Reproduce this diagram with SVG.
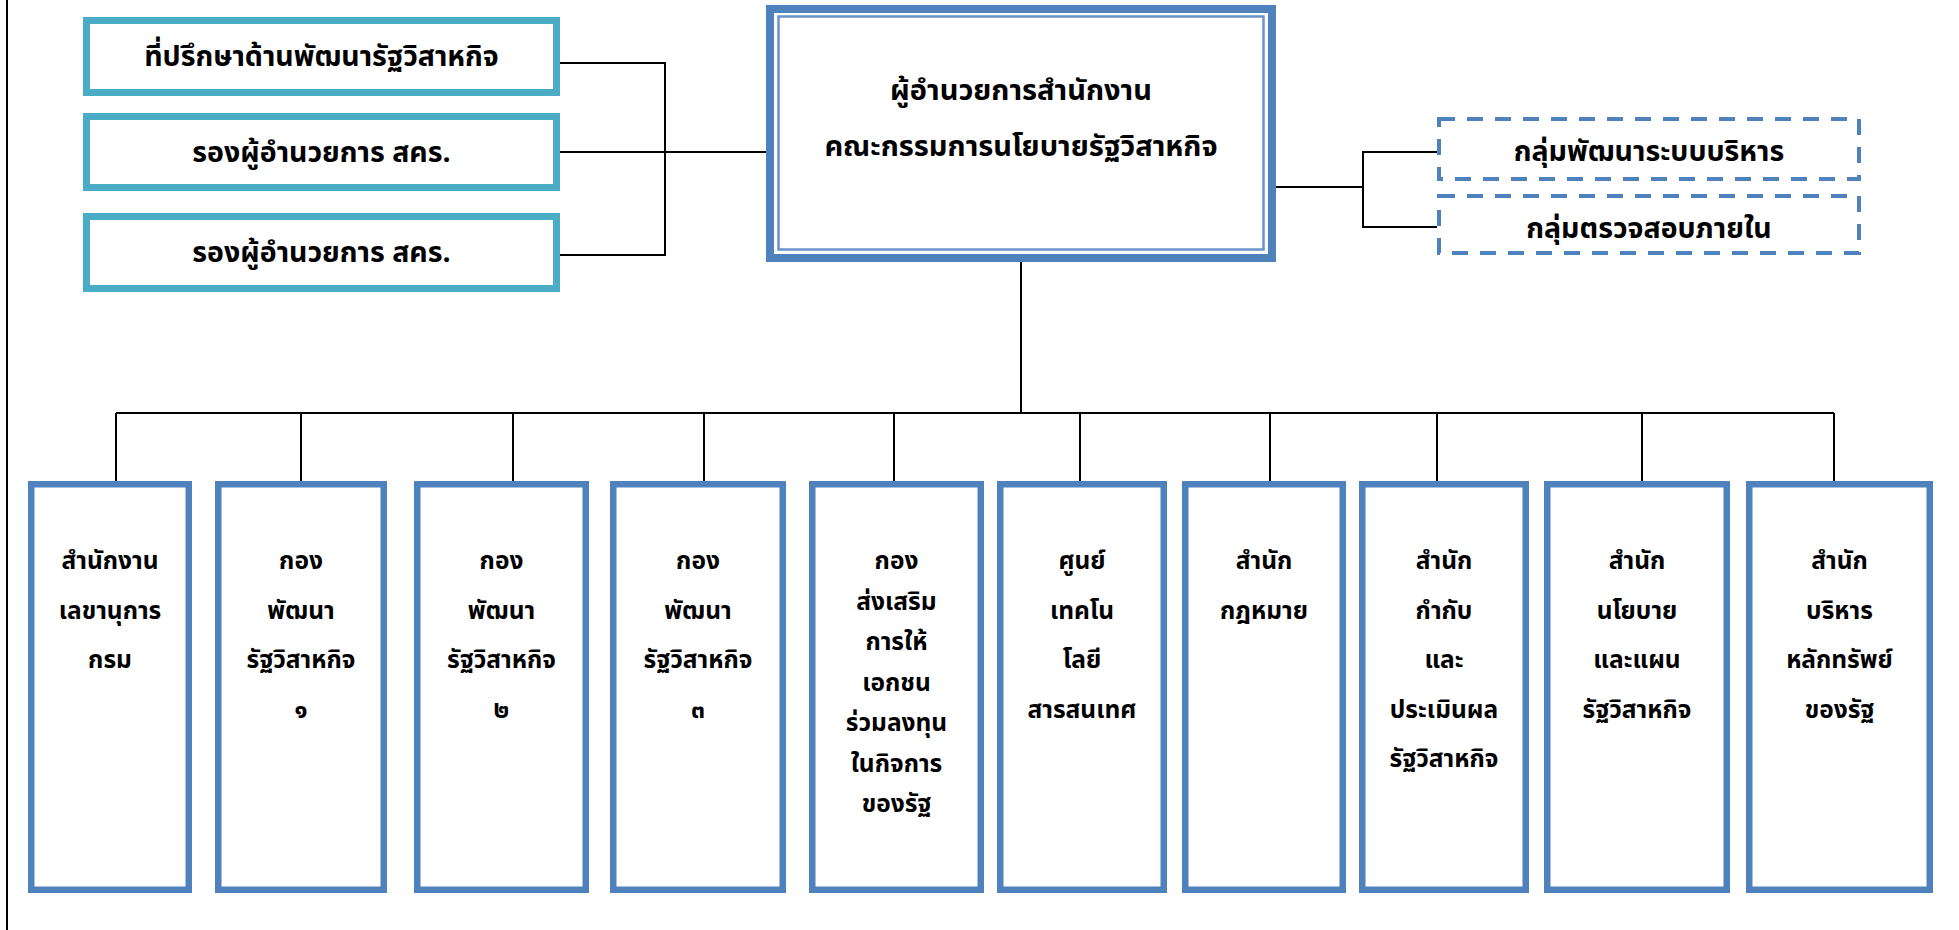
<svg xmlns="http://www.w3.org/2000/svg" width="1959" height="930" viewBox="0 0 1959 930">
<style>
.t{font-family:"Noto Sans Thai","Noto Sans","DejaVu Sans",sans-serif;fill:#000;text-anchor:middle;font-weight:bold}
.adv{fill:#fff;stroke:#4BACC6;stroke-width:7}
.box{fill:#fff;stroke:#4F81BD;stroke-width:6.5}
.dash{fill:none;stroke:#4F81BD;stroke-width:4;stroke-dasharray:16 12}
.ln{fill:none;stroke:#000;stroke-width:2}
.s26{font-size:28.5px}
.s27{font-size:28.5px}
.s28{font-size:29px}
.s22{font-size:24.5px}
</style>
<rect width="1959" height="930" fill="#fff"/>
<line x1="7" y1="0" x2="7" y2="930" class="ln"/>
<g id="connectors">
<polyline class="ln" points="560,63 665,63 665,255 560,255"/>
<line class="ln" x1="560" y1="152" x2="766" y2="152"/>
<line class="ln" x1="1276" y1="187" x2="1363" y2="187"/>
<polyline class="ln" points="1437,152 1363,152 1363,227 1437,227"/>
<line class="ln" x1="1021" y1="262" x2="1021" y2="413"/>
<line class="ln" x1="116" y1="413" x2="1834" y2="413"/>
<line class="ln" x1="116" y1="413" x2="116" y2="481"/>
<line class="ln" x1="301" y1="413" x2="301" y2="481"/>
<line class="ln" x1="513" y1="413" x2="513" y2="481"/>
<line class="ln" x1="704" y1="413" x2="704" y2="481"/>
<line class="ln" x1="894" y1="413" x2="894" y2="481"/>
<line class="ln" x1="1080" y1="413" x2="1080" y2="481"/>
<line class="ln" x1="1270" y1="413" x2="1270" y2="481"/>
<line class="ln" x1="1437" y1="413" x2="1437" y2="481"/>
<line class="ln" x1="1642" y1="413" x2="1642" y2="481"/>
<line class="ln" x1="1834" y1="413" x2="1834" y2="481"/>
</g>
<g id="advisor">
<rect class="adv" x="86.5" y="20.5" width="470" height="72"/>
<text class="t s26" x="321.5" y="66">ที่ปรึกษาด้านพัฒนารัฐวิสาหกิจ</text>
</g>
<g id="deputy1">
<rect class="adv" x="86.5" y="116.5" width="470" height="71"/>
<text class="t s26" x="321.5" y="162">รองผู้อำนวยการ สคร.</text>
</g>
<g id="deputy2">
<rect class="adv" x="86.5" y="216.5" width="470" height="72"/>
<text class="t s26" x="321.5" y="262">รองผู้อำนวยการ สคร.</text>
</g>
<g id="director">
<rect x="770" y="9" width="502" height="249" fill="#fff" stroke="#4F81BD" stroke-width="8"/>
<rect x="778.5" y="16.5" width="485" height="233" fill="none" stroke="#6B93C9" stroke-width="2.5"/>
<text class="t s28" x="1021" y="100">ผู้อำนวยการสำนักงาน</text>
<text class="t s28" x="1021" y="156">คณะกรรมการนโยบายรัฐวิสาหกิจ</text>
</g>
<g id="group-admin">
<rect class="dash" x="1439" y="119" width="420" height="60"/>
<text class="t s27" x="1649" y="161">กลุ่มพัฒนาระบบบริหาร</text>
</g>
<g id="group-audit">
<rect class="dash" x="1439" y="196" width="420" height="57"/>
<text class="t s27" x="1649" y="238">กลุ่มตรวจสอบภายใน</text>
</g>
<g id="u1">
<rect class="box" x="31.25" y="484.25" width="157.5" height="405.5"/>
<text class="t s22" x="110" y="569">สำนักงาน</text>
<text class="t s22" x="110" y="618.5">เลขานุการ</text>
<text class="t s22" x="110" y="668">กรม</text>
</g>
<g id="u2">
<rect class="box" x="218.25" y="484.25" width="165.5" height="405.5"/>
<text class="t s22" x="301" y="569">กอง</text>
<text class="t s22" x="301" y="618.5">พัฒนา</text>
<text class="t s22" x="301" y="668">รัฐวิสาหกิจ</text>
<text class="t s22" x="301" y="717.5">๑</text>
</g>
<g id="u3">
<rect class="box" x="417.25" y="484.25" width="168.5" height="405.5"/>
<text class="t s22" x="501.5" y="569">กอง</text>
<text class="t s22" x="501.5" y="618.5">พัฒนา</text>
<text class="t s22" x="501.5" y="668">รัฐวิสาหกิจ</text>
<text class="t s22" x="501.5" y="717.5">๒</text>
</g>
<g id="u4">
<rect class="box" x="613.25" y="484.25" width="169.5" height="405.5"/>
<text class="t s22" x="698" y="569">กอง</text>
<text class="t s22" x="698" y="618.5">พัฒนา</text>
<text class="t s22" x="698" y="668">รัฐวิสาหกิจ</text>
<text class="t s22" x="698" y="717.5">๓</text>
</g>
<g id="u5">
<rect class="box" x="812.25" y="484.25" width="168.5" height="405.5"/>
<text class="t s22" x="896.5" y="569">กอง</text>
<text class="t s22" x="896.5" y="609.5">ส่งเสริม</text>
<text class="t s22" x="896.5" y="650">การให้</text>
<text class="t s22" x="896.5" y="690.5">เอกชน</text>
<text class="t s22" x="896.5" y="731">ร่วมลงทุน</text>
<text class="t s22" x="896.5" y="771.5">ในกิจการ</text>
<text class="t s22" x="896.5" y="812">ของรัฐ</text>
</g>
<g id="u6">
<rect class="box" x="1000.25" y="484.25" width="163.5" height="405.5"/>
<text class="t s22" x="1082" y="569">ศูนย์</text>
<text class="t s22" x="1082" y="618.5">เทคโน</text>
<text class="t s22" x="1082" y="668">โลยี</text>
<text class="t s22" x="1082" y="717.5">สารสนเทศ</text>
</g>
<g id="u7">
<rect class="box" x="1185.25" y="484.25" width="157.5" height="405.5"/>
<text class="t s22" x="1264" y="569">สำนัก</text>
<text class="t s22" x="1264" y="618.5">กฎหมาย</text>
</g>
<g id="u8">
<rect class="box" x="1362.25" y="484.25" width="163.5" height="405.5"/>
<text class="t s22" x="1444" y="569">สำนัก</text>
<text class="t s22" x="1444" y="618.5">กำกับ</text>
<text class="t s22" x="1444" y="668">และ</text>
<text class="t s22" x="1444" y="717.5">ประเมินผล</text>
<text class="t s22" x="1444" y="767">รัฐวิสาหกิจ</text>
</g>
<g id="u9">
<rect class="box" x="1547.25" y="484.25" width="179.5" height="405.5"/>
<text class="t s22" x="1637" y="569">สำนัก</text>
<text class="t s22" x="1637" y="618.5">นโยบาย</text>
<text class="t s22" x="1637" y="668">และแผน</text>
<text class="t s22" x="1637" y="717.5">รัฐวิสาหกิจ</text>
</g>
<g id="u10">
<rect class="box" x="1749.25" y="484.25" width="180.5" height="405.5"/>
<text class="t s22" x="1839.5" y="569">สำนัก</text>
<text class="t s22" x="1839.5" y="618.5">บริหาร</text>
<text class="t s22" x="1839.5" y="668">หลักทรัพย์</text>
<text class="t s22" x="1839.5" y="717.5">ของรัฐ</text>
</g>
</svg>
